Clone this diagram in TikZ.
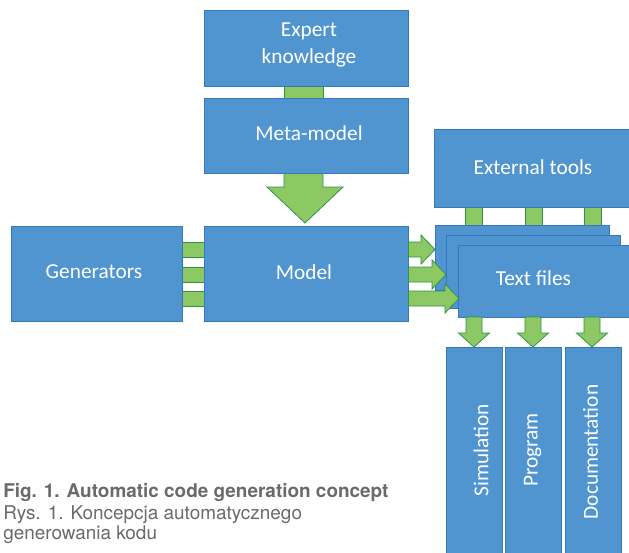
\documentclass[tikz,border=0pt]{standalone}
\usepackage{fontspec}
\setmainfont{Carlito}
\newfontfamily\capfont{TeX Gyre Heros}
\definecolor{boxblue}{RGB}{80,149,208}
\definecolor{boxedge}{RGB}{52,120,190}
\definecolor{arrgreen}{RGB}{140,200,100}
\definecolor{arredge}{RGB}{45,150,65}
\definecolor{capgray}{RGB}{105,106,108}
\newcommand\rarrow[3]{%
 \draw[garrow] (#1,#3-7.5) -- (#2-14,#3-7.5) -- (#2-14,#3-14.5) -- (#2,#3) -- (#2-14,#3+14.5) -- (#2-14,#3+7.5) -- (#1,#3+7.5) -- cycle;}
\newcommand\darrow[3]{%
 \draw[garrow] (#3-8,#1) -- (#3-8,#2-14) -- (#3-15.5,#2-14) -- (#3,#2) -- (#3+15.5,#2-14) -- (#3+8,#2-14) -- (#3+8,#1) -- cycle;}
\begin{document}
\begin{tikzpicture}[x=0.75pt,y=-0.75pt,
  box/.style={draw=boxedge, fill=boxblue, line width=0.75pt, inner sep=0pt, text=white, align=center, font=\fontsize{16}{20}\selectfont},
  sz/.style n args={2}{minimum width=#1*0.75pt, minimum height=#2*0.75pt},
  garrow/.style={draw=arredge, fill=arrgreen, line width=0.6pt},
  lbl/.style={text=white, inner sep=0pt, font=\fontsize{16}{20}\selectfont},
  captxt/.style={anchor=base west, inner sep=0pt, text=capgray, font=\capfont\fontsize{14.2}{17}\selectfont}]
\useasboundingbox (0,0) rectangle (629,553);
% connectors behind boxes
\draw[garrow] (284,85) rectangle (323,99);
\draw[garrow] (284,172) -- (284,187) -- (267,187) -- (305,223) -- (343,187) -- (323,187) -- (323,172) -- cycle;
\foreach \y in {242,267,291} \draw[garrow] (181,\y) rectangle (206,\y+15);
\foreach \x in {465,525,584} \draw[garrow] (\x,206) rectangle (\x+17,226);
% boxes
\node[box, sz={204}{76}] (expert) at (306,48) {};
\node[lbl, align=center] at (309,45) {Expert\\knowledge};
\node[box, sz={204}{75}] (meta) at (306,135.5) {};
\node[lbl] at (309,133) {Meta-model};
\node[box, sz={204}{95}] (model) at (306,273.5) {};
\node[lbl] at (304,272) {Model};
\node[box, sz={171}{95}] (gen) at (96.5,273.5) {};
\node[lbl] at (94,272) {Generators};
\node[box, sz={200}{78}] (ext) at (534,168) {};
\node[lbl] at (533,167) {External tools};
\node[box, sz={174}{65}] (txtA) at (522,257.5) {};
\node[box, sz={174}{73}] (txtB) at (533,271.5) {};
\node[box, sz={176}{72}] (txtC) at (546,281) {};
\node[lbl] at (533.5,278) {Text files};
% arrows model -> text files
\rarrow{408.5}{435}{249.5}
\rarrow{408.5}{446}{274.5}
\rarrow{408.5}{459}{298.5}
% arrows text files -> outputs
\darrow{317}{347}{474}
\darrow{317}{347}{533}
\darrow{317}{347}{592}
% output boxes
\node[box, sz={56}{213}] (sim) at (474,453.5) {};
\node[box, sz={56}{213}] (prog) at (533,453.5) {};
\node[box, sz={56}{213}] (doc) at (593,453.5) {};
\node[lbl, rotate=90] at (481,450) {Simulation};
\node[lbl, rotate=90] at (532.5,450) {Program};
\node[lbl, rotate=90] at (590.5,452) {Documentation};
% caption
\node[captxt] at (3,497) {\bfseries Fig. 1. Automatic code generation concept};
\node[captxt] at (3,519) {Rys. 1. Koncepcja automatycznego};
\node[captxt] at (3,539) {generowania kodu};
\end{tikzpicture}
\end{document}
